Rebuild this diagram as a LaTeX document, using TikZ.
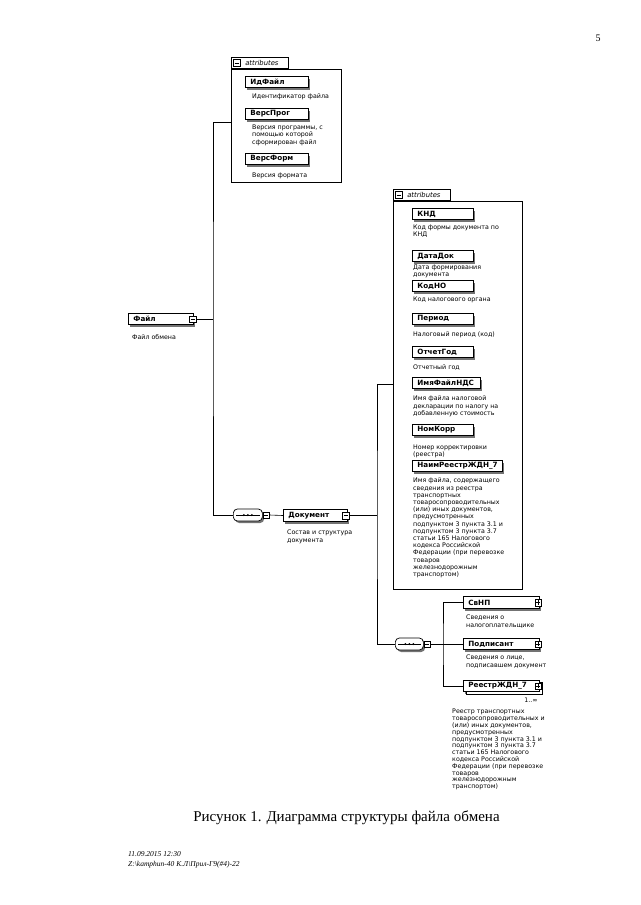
\documentclass[tikz,border=0pt]{standalone}
\usepackage{fontspec}
\setmainfont{Liberation Serif}
\newfontfamily\schemafont{DejaVu Sans}
\usetikzlibrary{shadows}

% element boxes, descriptions, attribute frames, expanders, compositors
\tikzset{
  elem/.style={draw, line width=0.8pt, fill=white, anchor=west,
    font=\schemafont\bfseries\fontsize{7.2}{8}\selectfont,
    text width=#1pt, align=left, inner xsep=5pt, inner ysep=0pt,
    minimum height=11.5pt,
    drop shadow={shadow xshift=2pt, shadow yshift=-2.4pt, fill=black!55, opacity=1}},
  elem/.default=53,
  desc/.style={anchor=north west, inner sep=0pt, align=left,
    font=\schemafont\fontsize{6.3}{7.2}\selectfont},
  frame/.style={draw, line width=0.6pt, anchor=north west, inner sep=0pt},
  tab/.style={draw, line width=0.6pt, fill=white, anchor=south west,
    minimum height=11pt, inner ysep=0pt, inner xsep=2pt, text width=53pt, align=left,
    font=\schemafont\itshape\fontsize{6.8}{8}\selectfont},
  expm/.style={draw, fill=white, line width=0.5pt, minimum size=6.5pt, inner sep=0pt,
    path picture={\draw[line width=0.5pt] ([xshift=1.2pt]path picture bounding box.west) -- ([xshift=-1.2pt]path picture bounding box.east);}},
  expp/.style={draw, fill=white, line width=0.5pt, minimum size=6.5pt, inner sep=0pt,
    path picture={\draw[line width=0.5pt] ([xshift=1.2pt]path picture bounding box.west) -- ([xshift=-1.2pt]path picture bounding box.east);
      \draw[line width=0.5pt] ([yshift=-1.2pt]path picture bounding box.north) -- ([yshift=1.2pt]path picture bounding box.south);}},
  seq/.style={draw, line width=0.7pt, fill=white, rounded corners=4pt, anchor=west,
    minimum width=29pt, minimum height=12pt, inner sep=0pt,
    drop shadow={shadow xshift=1.8pt, shadow yshift=-2pt, fill=black!55, opacity=1}},
  conn/.style={line width=0.6pt}
}

\begin{document}
\begin{tikzpicture}[x=1pt, y=-1pt]
  \fill[white] (0,0) rectangle (640,905);
  \useasboundingbox (0,0) rectangle (640,905);

  % page number
  \node[font=\fontsize{10}{12}\selectfont] (pagenum) at (598,38) {5};

  % root element
  \node[elem=55] (file) at (128,319) {Файл};
  \node[expm] (fileX) at ([xshift=-1pt]file.east) {};
  \node[desc] (fileD) at (132,334) {Файл обмена};

  % attributes of the root
  \node[frame, minimum width=110pt, minimum height=113pt] (attrF) at (231,69) {};
  \node[tab] (tabF) at (attrF.north west) {\hspace*{12pt}attributes};
  \node[expm, minimum size=7pt] (tabFi) at ([xshift=6pt]tabF.west) {};

  \node[elem] (idfile) at (245,82) {ИдФайл};
  \node[desc] (idfileD) at (252,94) {Идентификатор файла};
  \node[elem] (versprog) at (245,114) {ВерсПрог};
  \node[desc] (versprogD) at (252,125) {Версия программы, с\\помощью которой\\сформирован файл};
  \node[elem] (versform) at (245,159) {ВерсФорм};
  \node[desc] (versformD) at (252,173) {Версия формата};

  % first sequence and the document element
  \node[seq] (seqA) at (233,515) {};
  \draw[conn] ([xshift=3pt]seqA.west) -- ([xshift=-3pt]seqA.east);
  \foreach \d in {-4,0,4}
    \fill ([xshift=\d pt]seqA.center) circle (1.1pt);
  \node[expm, anchor=west] (seqAx) at (seqA.east) {};

  \node[elem=54] (doc) at (283,515.5) {Документ};
  \node[expm] (docX) at ([xshift=-2pt]doc.east) {};
  \node[desc] (docD) at (287,530) {Состав и структура\\документа};

  % attributes of the document
  \node[frame, minimum width=129pt, minimum height=388pt] (attrD) at (393,201) {};
  \node[tab] (tabD) at (attrD.north west) {\hspace*{12pt}attributes};
  \node[expm, minimum size=7pt] (tabDi) at ([xshift=6pt]tabD.west) {};

  \node[elem=51] (knd) at (412,214) {КНД};
  \node[desc] (kndD) at (413,225) {Код формы документа по\\КНД};
  \node[elem=51] (datadok) at (412,256) {ДатаДок};
  \node[desc] (datadokD) at (413,265) {Дата формирования\\документа};
  \node[elem=51] (kodno) at (412,286) {КодНО};
  \node[desc] (kodnoD) at (413,297) {Код налогового органа};
  \node[elem=51] (period) at (412,319) {Период};
  \node[desc] (periodD) at (413,332) {Налоговый период (код)};
  \node[elem=51] (otchgod) at (412,352) {ОтчетГод};
  \node[desc] (otchgodD) at (413,365) {Отчетный год};
  \node[elem=58] (imyafnds) at (412,383) {ИмяФайлНДС};
  \node[desc] (imyafndsD) at (413,396) {Имя файла налоговой\\декларации по налогу на\\добавленную стоимость};
  \node[elem=51] (nomkorr) at (412,430) {НомКорр};
  \node[desc] (nomkorrD) at (413,445) {Номер корректировки\\(реестра)};
  \node[elem=80] (naimr) at (412,466) {НаимРеестрЖДН\_7};
  \node[desc] (naimrD) at (413,478) {Имя файла, содержащего\\сведения из реестра\\транспортных\\товаросопроводительных\\(или) иных документов,\\предусмотренных\\подпунктом 3 пункта 3.1 и\\подпунктом 3 пункта 3.7\\статьи 165 Налогового\\кодекса Российской\\Федерации (при перевозке\\товаров\\железнодорожным\\транспортом)};

  % second sequence and its children
  \node[seq, minimum width=28pt] (seqB) at (395,644) {};
  \draw[conn] ([xshift=3pt]seqB.west) -- ([xshift=-3pt]seqB.east);
  \foreach \d in {-4,0,4}
    \fill ([xshift=\d pt]seqB.center) circle (1.1pt);
  \node[expm, anchor=west] (seqBx) at (seqB.east) {};

  \node[elem=66] (svnp) at (463,602.5) {СвНП};
  \node[expp] (svnpX) at ([xshift=-1.5pt]svnp.east) {};
  \node[desc] (svnpD) at (466,615) {Сведения о\\налогоплательщике};
  \node[elem=66] (podp) at (463,644) {Подписант};
  \node[expp] (podpX) at ([xshift=-1.5pt]podp.east) {};
  \node[desc] (podpD) at (466,655) {Сведения о лице,\\подписавшем документ};
  \node[elem=66, copy shadow={shadow xshift=2.5pt, shadow yshift=-2.5pt}] (reestr) at (463,686) {РеестрЖДН\_7};
  \node[expp] (reestrX) at ([xshift=-1.5pt]reestr.east) {};
  \node[font=\schemafont\fontsize{6.3}{7}\selectfont, inner sep=0pt] (reestrN) at (531,700) {1..∞};
  \node[desc, font=\schemafont\fontsize{6.3}{6.8}\selectfont] (reestrD) at (452,709) {Реестр транспортных\\товаросопроводительных и\\(или) иных документов,\\предусмотренных\\подпунктом 3 пункта 3.1 и\\подпунктом 3 пункта 3.7\\статьи 165 Налогового\\кодекса Российской\\Федерации (при перевозке\\товаров\\железнодорожным\\транспортом)};

  % connectors
  \coordinate (j1) at (213,319);
  \coordinate (j2) at (377,515.5);
  \coordinate (j3) at (443,644);
  \draw[conn] (fileX.east) -- (j1);
  \draw[conn] ([yshift=3.5pt]attrF.west) -| (j1) |- (seqA.west);
  \draw[conn] (seqAx.east) -- (doc.west);
  \draw[conn] (docX.east) -- (j2);
  \draw[conn] ([yshift=11pt]attrD.west) -| (j2) |- (seqB.west);
  \draw[conn] (seqBx.east) -- (j3);
  \draw[conn] (svnp.west) -| (j3) |- (reestr.west);
  \draw[conn] (j3) -- (podp.west);

  % caption and stamp
  \node[font=\fontsize{15}{17}\selectfont] (caption) at (346.5,818) {Рисунок 1. Диаграмма структуры файла обмена};
  \node[anchor=west, align=left, inner sep=0pt, font=\itshape\fontsize{7.5}{10}\selectfont] (stamp) at (128,860) {11.09.2015 12:30\\Z:\textbackslash kamphun-40 К.Л\textbackslash Прил-Г9(\#4)-22};
\end{tikzpicture}
\end{document}
